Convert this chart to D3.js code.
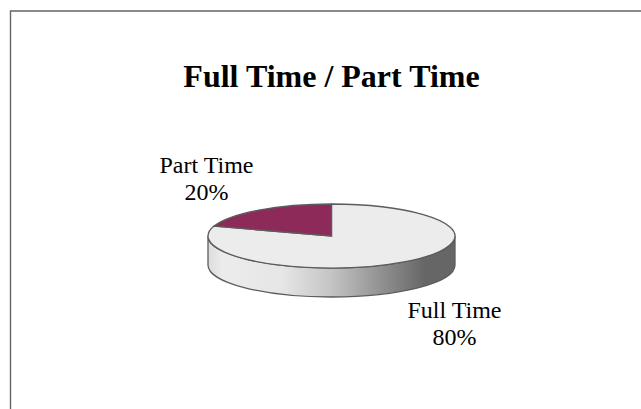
<!DOCTYPE html>
<html>
<head>
<meta charset="utf-8">
<script src="https://cdn.jsdelivr.net/npm/d3@7"></script>
<style>
html, body { margin: 0; padding: 0; background: #fff; }
svg { display: block; }
text { font-family: "Liberation Serif", serif; fill: #000; }
</style>
</head>
<body>
<svg id="chart" width="641" height="409"></svg>
<script>
var categories = ["Full Time", "Part Time"];
var shares = [80, 20];
var title = "Full Time / Part Time";

var svg = d3.select("#chart");

var cx = 331.5, cy = 236, rx = 123.5, ry = 32, depth = 29;

// frame, only top and left are inside the picture
svg.append("path")
	.attr("d", "M10.5,409V11H641")
	.attr("fill", "none")
	.attr("stroke", "#666")
	.attr("stroke-width", 1.4);

svg.append("text")
	.attr("x", 331.5)
	.attr("y", 87)
	.attr("text-anchor", "middle")
	.attr("font-weight", "bold")
	.attr("font-size", 32)
	.text(title);

// side wall shading
var grad = svg.append("defs").append("linearGradient")
	.attr("id", "wall")
	.attr("gradientUnits", "userSpaceOnUse")
	.attr("x1", cx - rx).attr("x2", cx + rx)
	.attr("y1", 0).attr("y2", 0);
[[0, "#dcdcdc"], [0.06, "#ececec"], [0.3, "#e6e6e6"], [0.5, "#c4c4c4"], [0.72, "#8c8c8c"], [0.88, "#666"], [1, "#666"]].forEach(function(s) {
	grad.append("stop").attr("offset", s[0]).attr("stop-color", s[1]);
});

svg.append("path")
	.attr("d", "M" + (cx - rx) + "," + cy
		+ "V" + (cy + depth)
		+ "A" + rx + "," + ry + " 0 0 0 " + (cx + rx) + "," + (cy + depth)
		+ "V" + cy
		+ "A" + rx + "," + ry + " 0 0 1 " + (cx - rx) + "," + cy + "Z")
	.attr("fill", "url(#wall)")
	.attr("stroke", "#5c5c5c")
	.attr("stroke-width", 1.3);

// top face: a normal pie squashed to an ellipse
var pie = d3.pie().sort(null).value(function(d) { return d; });
var arc = d3.arc().innerRadius(0).outerRadius(rx);
var colors = d3.scaleOrdinal().domain(categories).range(["#ececec", "#8e2a5a"]);

svg.append("g")
	.attr("transform", "translate(" + cx + "," + cy + ") scale(1," + (ry / rx) + ")")
	.selectAll("path")
	.data(pie(shares))
	.enter()
	.append("path")
	.attr("d", arc)
	.attr("fill", function(d, i) { return colors(categories[i]); })
	.attr("stroke", "#5c5c5c")
	.attr("stroke-width", 1.3)
	.attr("vector-effect", "non-scaling-stroke");

// labels
var labelPos = [[454.5, 318], [206.5, 173]];
categories.forEach(function(c, i) {
	var t = svg.append("text")
		.attr("text-anchor", "middle")
		.attr("font-size", 24);
	t.append("tspan").attr("x", labelPos[i][0]).attr("y", labelPos[i][1]).text(c);
	t.append("tspan").attr("x", labelPos[i][0]).attr("y", labelPos[i][1] + 27).text(shares[i] + "%");
});
</script>
</body>
</html>
